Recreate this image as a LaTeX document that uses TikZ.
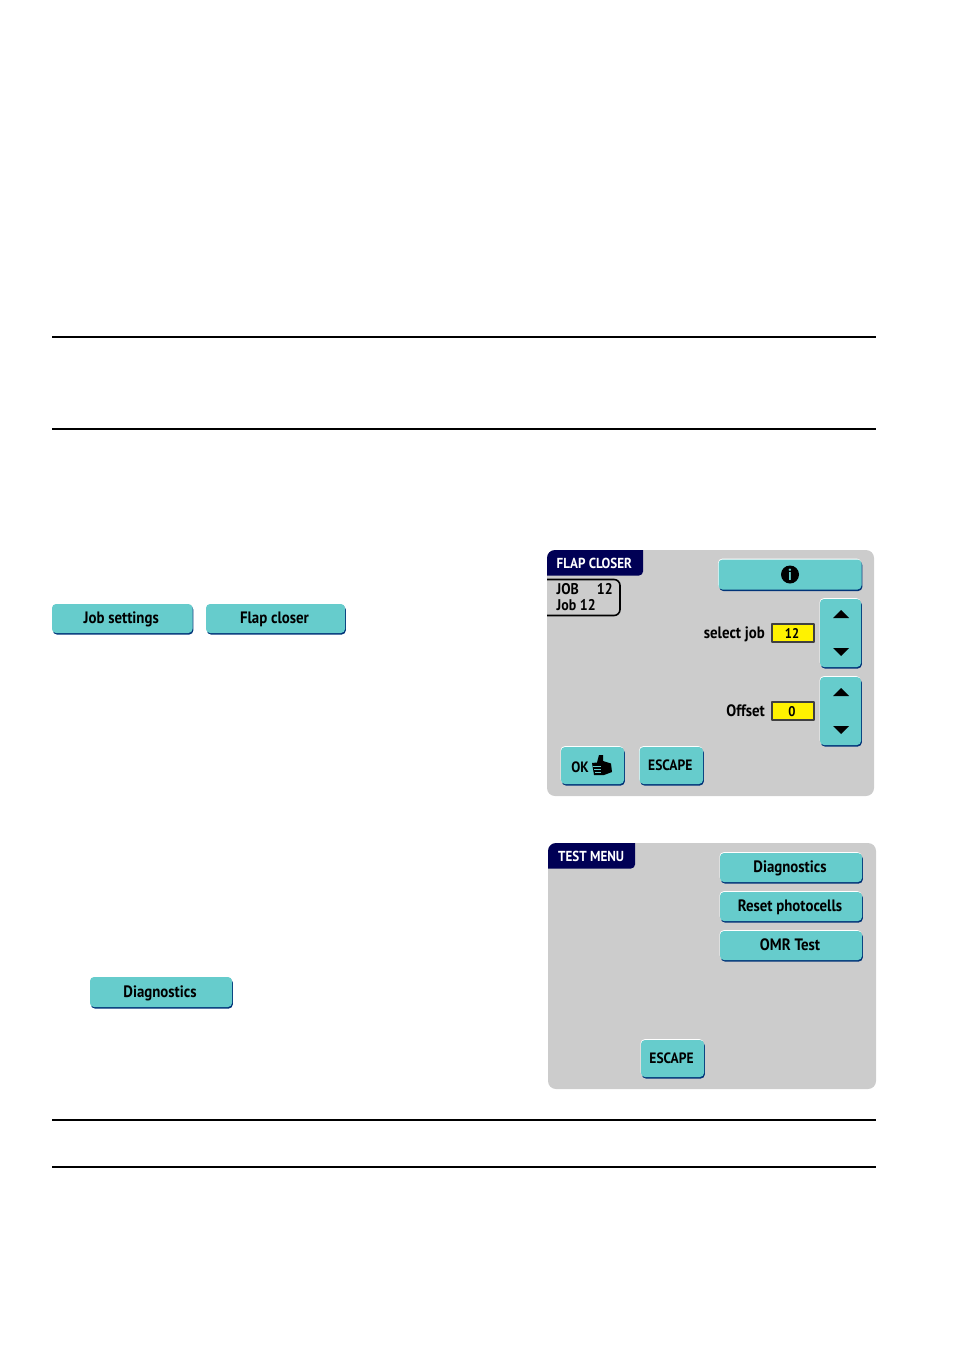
\documentclass[tikz,border=0pt]{standalone}
\usepackage{fontspec}
\setmainfont{PT Sans}[FakeStretch=0.9]
\definecolor{panelgray}{RGB}{204,204,204}
\definecolor{btnteal}{RGB}{102,204,204}
\definecolor{btnedge}{RGB}{0,51,120}
\definecolor{tabnavy}{RGB}{0,0,85}
\tikzset{
  btnbox/.style={rounded corners=4pt, fill=btnteal, draw=none, inner sep=0pt, text=black,
    font=\bfseries\fontsize{16.5}{16.5}\selectfont,
    preaction={fill=btnedge, transform canvas={shift={(.8pt,-1.5pt)}}},
    preaction={fill=white, transform canvas={shift={(-.4pt,.8pt)}}}},
  screenlabel/.style={inner sep=0pt, text=black, text height=13pt, text depth=3pt,
    font=\bfseries\fontsize{16.5}{16.5}\selectfont},
  capslabel/.style={screenlabel, font=\bfseries\fontsize{15}{15}\selectfont},
  joblabel/.style={screenlabel, font=\bfseries\fontsize{15.5}{15.5}\selectfont},
  valbox/.style={fill=yellow, draw=black!75, line width=1.2pt, inner sep=0pt, text=black,
    text height=13pt, text depth=3pt, font=\bfseries\fontsize{14}{14}\selectfont},
  tabtext/.style={inner sep=0pt, text=white, text height=13pt, text depth=3pt,
    font=\bfseries\fontsize{14.5}{15}\selectfont},
}
\begin{document}
\begin{tikzpicture}[x=1pt, y=-1pt, line join=round]
  \useasboundingbox (0,0) rectangle (954,1352);
  % horizontal rules
  \foreach \y/\n in {337/a,429/b,1120/c,1167/d}{
    \coordinate (rule\n L) at (52,\y);
    \coordinate (rule\n R) at (876,\y);
    \draw[line width=1.5pt] (rule\n L)--(rule\n R);
  }
  % loose buttons in the text
  \foreach \n/\xa/\ya/\xb/\yb/\t in {job/52/604/192.5/633/Job settings,flap/206/604/345/633/Flap closer,diagleft/90/977/232/1007/Diagnostics}
    \path[btnbox] (\xa,\ya) rectangle (\xb,\yb) node[midway, xshift=-1pt, screenlabel] (\n) {\t};

  % first screen
  \fill[panelgray, rounded corners=8pt] (547,550) rectangle (874,796);
  \fill[tabnavy] [rounded corners=8pt] (547,575.5) [sharp corners] -- (547,575.5) [rounded corners=8pt] -- (547,550) [sharp corners] -- (643,550) [rounded corners=4pt] -- (643,575.5) [sharp corners] -- (547,575.5) -- cycle;
  \node[tabtext, anchor=west] (flaptitle) at (556.5,563.5) {FLAP CLOSER};
  \draw[line width=1.6pt, rounded corners=6pt, black] (547,579.5) -- (620,579.5) -- (620,615.5) -- (547,615.5);
  \node[joblabel, anchor=west] (jobname) at (556.5,589.5) {JOB};
  \node[joblabel, anchor=east] (jobnum) at (613,589.5) {12};
  \node[joblabel, anchor=west] (jobline) at (556.5,605.5) {Job 12};
  \path[btnbox] (718.5,559.5) rectangle (861.5,589.5) coordinate[midway] (infoC);
  \fill[black] (infoC) circle (9pt);
  \node[inner sep=0pt, text=btnteal, font=\bfseries\fontsize{16}{16}\selectfont] (info) at (infoC) {i};
  \foreach \n/\ya/\yb in {sel/599/667,off/677/745}{
    \path[btnbox] (820,\ya) rectangle (861,\yb);
    \fill[black] (833,\ya+19) -- (849,\ya+19) -- (841,\ya+11) -- cycle;
    \fill[black] (833,\yb-19) -- (849,\yb-19) -- (841,\yb-11) -- cycle;
  }
  \foreach \n/\ya/\yb/\t/\l in {sel/624/642/12/select job,off/702/720/0/Offset}{
    \path[valbox] (772,\ya) rectangle (814,\yb) node[midway, xshift=-1pt, inner sep=0pt] (\n val) {\t};
    \node[screenlabel, anchor=east] (\n lab) at (765,\ya+9) {\l};
  }
  \path[btnbox] (561,747) rectangle (624,784);
  \node[capslabel] (oklab) at (580,767) {OK};
  % thumb icon
  \fill[black] (592,763) -- (597,762.5) -- (599,755) -- (603,755) -- (603,761) -- (611,763.5) -- (612,772) -- (604,775) -- (594,775) -- cycle;
  \draw[btnteal, line width=.7pt] (593,766)--(601,766) (594,769)--(601,769) (595,772)--(601,772);
  \path[btnbox] (639.5,747) rectangle (703,784) node[midway, xshift=-1pt, capslabel] (escA) {ESCAPE};

  % second screen
  \fill[panelgray, rounded corners=8pt] (548,843) rectangle (876,1089);
  \fill[tabnavy] [rounded corners=8pt] (548,868.5) [sharp corners] -- (548,868.5) [rounded corners=8pt] -- (548,843) [sharp corners] -- (635,843) [rounded corners=4pt] -- (635,868.5) [sharp corners] -- (548,868.5) -- cycle;
  \node[tabtext, anchor=west] (testtitle) at (558,856.5) {TEST MENU};
  \foreach \n/\ya/\yb/\t in {diag/853/882/Diagnostics,reset/892/921/Reset photocells,omr/931/960/OMR Test}
    \path[btnbox] (720,\ya) rectangle (862,\yb) node[midway, xshift=-1pt, screenlabel] (\n) {\t};
  \path[btnbox] (641,1040) rectangle (704,1077) node[midway, xshift=-1pt, capslabel] (escB) {ESCAPE};
\end{tikzpicture}
\end{document}
